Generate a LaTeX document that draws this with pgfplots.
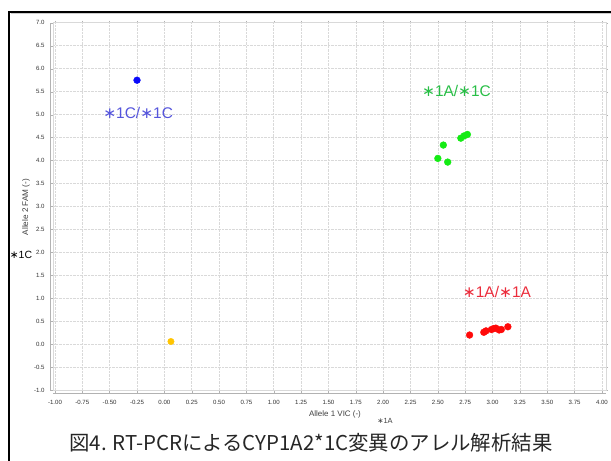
\documentclass[border=0pt]{standalone}
\usepackage{fontspec}
\setmainfont{Liberation Sans}
\newfontfamily\jp{Noto Sans CJK JP}
\newfontfamily\dv{DejaVu Sans}
\usepackage{pgfplots}
\pgfplotsset{compat=1.18}
\definecolor{ptblue}{RGB}{10,10,250}
\definecolor{ptyellow}{RGB}{255,196,0}
\definecolor{ptgreen}{RGB}{20,235,20}
\definecolor{ptred}{RGB}{255,10,10}
\definecolor{lblue}{RGB}{85,85,220}
\definecolor{lgreen}{RGB}{40,190,70}
\definecolor{lred}{RGB}{235,45,60}
\newcommand{\st}{{\dv ∗}}
\begin{document}
\begin{tikzpicture}
\useasboundingbox (0,0) rectangle (611bp,-461bp);
% frame
\draw[line width=2.2bp] (9bp,-461bp) -- (9bp,-12bp) -- (611bp,-12bp);
\draw[gray!40,line width=0.8bp] (10.5bp,-13.8bp) -- (611bp,-13.8bp);
\begin{axis}[
  name=ax,
  at={(53bp,-22.7bp)}, anchor=north west,
  scale only axis, width=553bp, height=368bp,
  xmin=-1.018, xmax=4.037, ymin=-1, ymax=7,
  xtick={-1,-0.75,...,4.01}, ytick={-1,-0.5,...,7.01},
  x tick label style={/pgf/number format/fixed,/pgf/number format/fixed zerofill,/pgf/number format/precision=2,/pgf/number format/assume math mode=true},
  y tick label style={/pgf/number format/fixed,/pgf/number format/fixed zerofill,/pgf/number format/precision=1,/pgf/number format/assume math mode=true},
  ticklabel style={font=\fontsize{6.1}{7}\selectfont, text=black!80},
  yticklabel style={xshift=-3bp},
  xticklabel style={yshift=-4bp},
  axis line style={draw=gray!30, line width=0.8bp},
  tick align=outside, major tick length=2bp,
  tick style={draw=gray!60, line width=0.4bp},
  grid=major, grid style={densely dotted, gray!30, line width=0.6bp},
  clip=false,
]
\addplot[only marks, mark=*, mark size=3.4bp, ptblue, mark options={draw=ptblue, fill=ptblue}] coordinates {(-0.25,5.75)};
\addplot[only marks, mark=*, mark size=3.2bp, ptyellow, mark options={draw=ptyellow, fill=ptyellow}] coordinates {(0.06,0.07)};
\addplot[only marks, mark=*, mark size=3.4bp, ptgreen, mark options={draw=ptgreen, fill=ptgreen}] coordinates {
(2.55,4.34) (2.50,4.05) (2.59,3.97) (2.71,4.49) (2.74,4.54) (2.77,4.57)};
\addplot[only marks, mark=*, mark size=3.4bp, ptred, mark options={draw=ptred, fill=ptred}] coordinates {
(2.79,0.21) (2.92,0.27) (2.94,0.30) (2.99,0.33) (3.01,0.35) (3.03,0.36) (3.06,0.32) (3.08,0.33) (3.14,0.39)};
\node[lblue, font=\fontsize{15.5}{16}\selectfont] at (axis cs:-0.24,5.04) {\st1C/\st1C};
\node[lgreen, font=\fontsize{15.5}{16}\selectfont] at (axis cs:2.67,5.52) {\st1A/\st1C};
\node[lred, font=\fontsize{15.5}{16}\selectfont] at (axis cs:3.04,1.15) {\st1A/\st1A};
\end{axis}
\draw[gray!60, line width=0.5bp] ([xshift=-3bp]ax.south west) -- ([xshift=-3bp]ax.north west);
\draw[gray!60, line width=0.5bp] ([yshift=-3bp]ax.south west) -- ([yshift=-3bp]ax.south east);
\node[rotate=90, font=\fontsize{8.2}{9}\selectfont, text=black!75] at (26bp,-207bp) {Allele 2 FAM (-)};
\node[font=\fontsize{8}{9}\selectfont, text=black!75] at (335bp,-414bp) {Allele 1 VIC (-)};
\node[font=\fontsize{10.5}{11}\selectfont] at (21bp,-255bp) {\st1C};
\node[font=\fontsize{7.5}{8}\selectfont, text=black!75] at (385bp,-421bp) {\st1A};
\node[font=\jp\fontsize{20.5}{21}\selectfont, text=black!85] at (311bp,-443bp) {図4. RT-PCRによるCYP1A2*1C変異のアレル解析結果};
\end{tikzpicture}
\end{document}
